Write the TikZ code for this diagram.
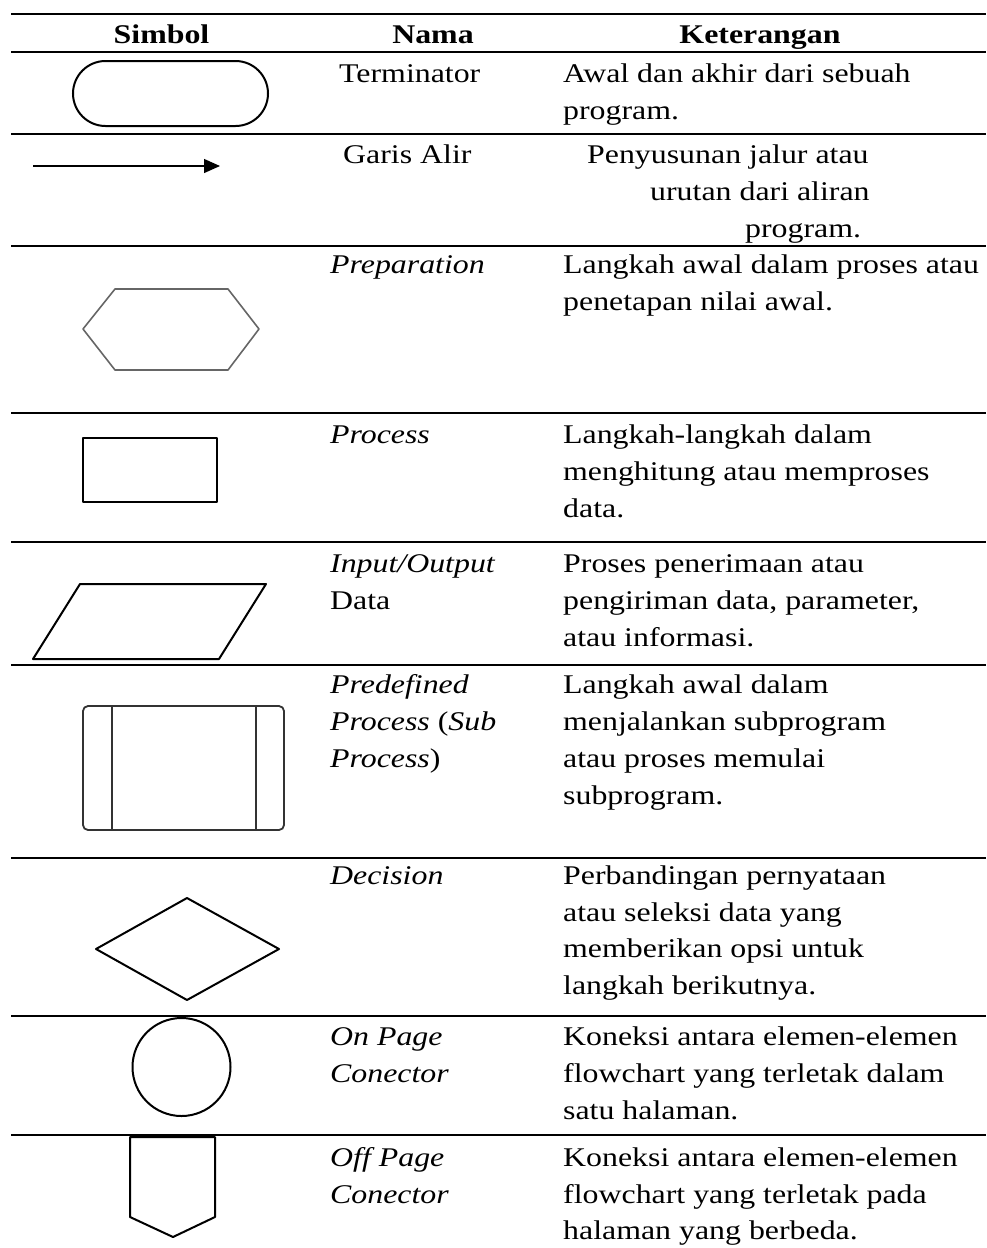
\documentclass[tikz,border=0pt]{standalone}
\usepackage{fontspec}
\setmainfont{Liberation Serif}[FakeStretch=1.18]
\usetikzlibrary{arrows.meta,shapes.misc}
\begin{document}
\begin{tikzpicture}[x=1pt,y=-1pt,
  rule/.style={line width=2.8pt},
  shp/.style={draw, line width=2pt, line join=round},
  txt/.style={anchor=base west, inner sep=0pt, font=\fontsize{27}{37}\selectfont},
  hdr/.style={anchor=base, inner sep=0pt, font=\fontsize{27}{37}\selectfont\bfseries}]
\useasboundingbox (0,0) rectangle (986,1248);
% rules
\foreach \y/\n in {14/r0,52/r1,134/r2,246/r3,413/r4,542/r5,665/r6,858/r7,1016/r8,1135/r9}{
  \coordinate (\n l) at (11,\y); \coordinate (\n r) at (986,\y);
  \draw[rule] (\n l) -- (\n r);
}
% header
\node[hdr] (hsim) at (161.5,43) {Simbol};
\node[hdr] (hnam) at (433,43) {Nama};
\node[hdr] (hket) at (760,43) {Keterangan};
% terminator
\node[rounded rectangle, draw, line width=2pt, minimum width=195pt, minimum height=65pt, inner sep=0pt] (term) at (170.5,93.5) {};
\node[txt] (nterm) at (339,82) {Terminator};
\node[txt] (kterm1) at (563,82) {Awal dan akhir dari sebuah};
\node[txt] (kterm2) at (563,119) {program.};
% flow line
\coordinate (a1) at (33,166); \coordinate (a2) at (220,166);
\draw[line width=1.3pt, -{Triangle[length=16pt,width=14pt]}] (a1) -- (a2);
\node[txt] (nflow) at (343,163) {Garis Alir};
\node[txt] (kflow1) at (587,163) {Penyusunan jalur atau};
\node[txt] (kflow2) at (650,200) {urutan dari aliran};
\node[txt] (kflow3) at (745,237) {program.};
% preparation
\draw[shp, draw=black!60, line width=1.6pt] (83,329) -- (115,289) -- (228,289) -- (259,329) -- (228,370) -- (115,370) -- cycle;
\node[txt] (nprep) at (330,273) {\itshape Preparation};
\node[txt] (kprep1) at (563,273) {Langkah awal dalam proses atau};
\node[txt] (kprep2) at (563,310) {penetapan nilai awal.};
% process
\draw[shp, line width=2.5pt] (83,438) rectangle (217,502);
\node[txt] (nproc) at (330,443) {\itshape Process};
\node[txt] (kproc1) at (563,443) {Langkah-langkah dalam};
\node[txt] (kproc2) at (563,480) {menghitung atau memproses};
\node[txt] (kproc3) at (563,517) {data.};
% input/output
\draw[shp] (80,584) -- (266,584) -- (219,659) -- (33,659) -- cycle;
\node[txt] (nio1) at (330,572) {\itshape Input/Output};
\node[txt] (nio2) at (330,609) {Data};
\node[txt] (kio1) at (563,572) {Proses penerimaan atau};
\node[txt] (kio2) at (563,609) {pengiriman data, parameter,};
\node[txt] (kio3) at (563,646) {atau informasi.};
% predefined
\draw[shp, draw=black!80, line width=1.8pt, rounded corners=5pt] (83,706) rectangle (284,830);
\draw[draw=black!80, line width=1.8pt] (112,706) -- (112,830) (256,706) -- (256,830);
\node[txt] (npre1) at (330,693) {\itshape Predefined};
\node[txt] (npre2) at (330,730) {\itshape Process \upshape(\itshape Sub};
\node[txt] (npre3) at (330,767) {\itshape Process\upshape)};
\node[txt] (kpre1) at (563,693) {Langkah awal dalam};
\node[txt] (kpre2) at (563,730) {menjalankan subprogram};
\node[txt] (kpre3) at (563,767) {atau proses memulai};
\node[txt] (kpre4) at (563,804) {subprogram.};
% decision
\draw[shp] (96,949) -- (187,898) -- (279,949) -- (187,1000) -- cycle;
\node[txt] (ndec) at (330,884) {\itshape Decision};
\node[txt] (kdec1) at (563,884) {Perbandingan pernyataan};
\node[txt] (kdec2) at (563,921) {atau seleksi data yang};
\node[txt] (kdec3) at (563,957) {memberikan opsi untuk};
\node[txt] (kdec4) at (563,994) {langkah berikutnya.};
% on page connector
\node[circle, draw, line width=2pt, minimum size=98pt, inner sep=0pt] (onp) at (181.5,1067) {};
\node[txt] (non1) at (330,1045) {\itshape On Page};
\node[txt] (non2) at (330,1082) {\itshape Conector};
\node[txt] (kon1) at (563,1045) {Koneksi antara elemen-elemen};
\node[txt] (kon2) at (563,1082) {flowchart yang terletak dalam};
\node[txt] (kon3) at (563,1119) {satu halaman.};
% off page connector
\draw[shp] (130,1137) -- (215,1137) -- (215,1217) -- (173,1237) -- (130,1217) -- cycle;
\node[txt] (noff1) at (330,1166) {\itshape Off Page};
\node[txt] (noff2) at (330,1203) {\itshape Conector};
\node[txt] (koff1) at (563,1166) {Koneksi antara elemen-elemen};
\node[txt] (koff2) at (563,1203) {flowchart yang terletak pada};
\node[txt] (koff3) at (563,1239) {halaman yang berbeda.};
\end{tikzpicture}
\end{document}
